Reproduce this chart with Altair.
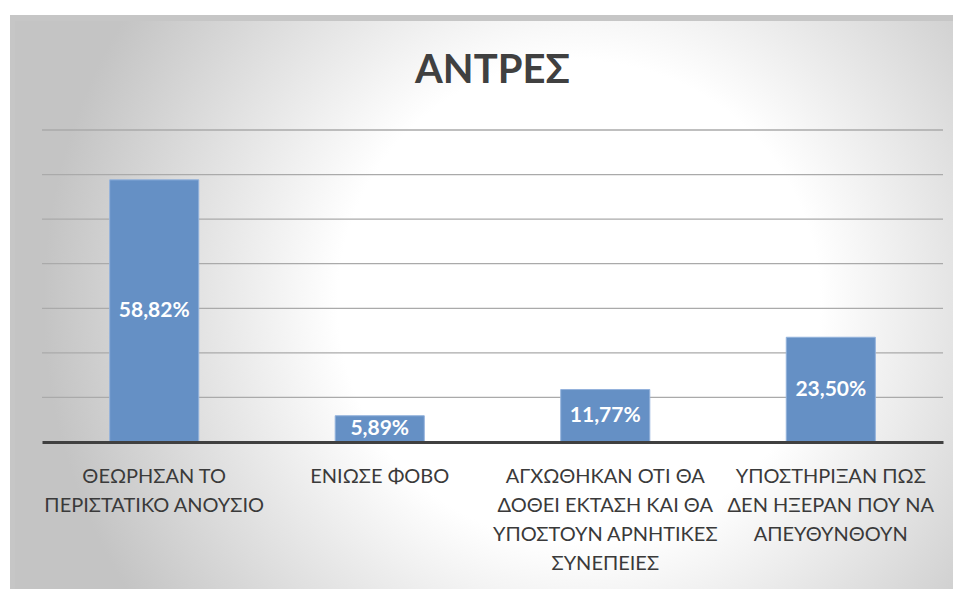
import altair as alt
import pandas as pd

# ---- data ----
categories = [
    "ΘΕΩΡΗΣΑΝ ΤΟ|ΠΕΡΙΣΤΑΤΙΚΟ ΑΝΟΥΣΙΟ",
    "ΕΝΙΩΣΕ ΦΟΒΟ",
    "ΑΓΧΩΘΗΚΑΝ ΟΤΙ ΘΑ|ΔΟΘΕΙ ΕΚΤΑΣΗ ΚΑΙ ΘΑ|ΥΠΟΣΤΟΥΝ ΑΡΝΗΤΙΚΕΣ|ΣΥΝΕΠΕΙΕΣ",
    "ΥΠΟΣΤΗΡΙΞΑΝ ΠΩΣ|ΔΕΝ ΗΞΕΡΑΝ ΠΟΥ ΝΑ|ΑΠΕΥΘΥΝΘΟΥΝ",
]
values = [58.82, 5.89, 11.77, 23.50]
grid_values = [10, 20, 30, 40, 50, 60, 70]
title_text = "ΑΝΤΡΕΣ"

df = pd.DataFrame({"cat": categories, "value": values})
grid_df = pd.DataFrame({"g": grid_values})

FONT = "Lato"
W, H = 901, 312

x_enc = alt.X(
    "cat:N",
    sort=categories,
    scale=alt.Scale(paddingInner=0.605, paddingOuter=0.3),
    axis=alt.Axis(
        title=None,
        labelAngle=0,
        labelExpr="split(datum.label, '|')",
        labelFont=FONT,
        labelFontSize=20,
        labelColor="#3a3a3a",
        labelLineHeight=29,
        labelPadding=24,
        labelLimit=300,
        ticks=False,
        domainColor="#404040",
        domainWidth=3,
        zindex=1,
    ),
)
y_scale = alt.Scale(domain=[0, 70], nice=False)

one = alt.Data(values=[{"k": 1}])

bg = alt.Chart(one).mark_rect(
    clip=False,
    fill=alt.Gradient(
        gradient="radial",
        x1=0.6, y1=0.5, r1=0,
        x2=0.6, y2=0.5, r2=0.55,
        stops=[
            alt.GradientStop(color="#ffffff", offset=0),
            alt.GradientStop(color="#ffffff", offset=0.45),
            alt.GradientStop(color="#c4c4c4", offset=1),
        ],
    ),
).encode(x=alt.value(-32), x2=alt.value(911), y=alt.value(-315), y2=alt.value(659))

cover = alt.Chart(one).mark_rect(clip=False, fill="#ffffff").encode(
    x=alt.value(-40), x2=alt.value(920), y=alt.value(-130), y2=alt.value(-115)
)
top_strip = alt.Chart(one).mark_rect(clip=False, fill="#c6c6c6").encode(
    x=alt.value(-32), x2=alt.value(911), y=alt.value(-115), y2=alt.value(-109)
)
left_strip = alt.Chart(one).mark_rect(clip=False, fill="#c6c6c6").encode(
    x=alt.value(-32), x2=alt.value(-27), y=alt.value(-115), y2=alt.value(470)
)

title = alt.Chart(alt.Data(values=[{"t": title_text}])).mark_text(
    font=FONT, fontSize=40, fontWeight="bold", color="#404040",
    baseline="alphabetic", align="center", clip=False,
).encode(x=alt.value(W / 2), y=alt.value(-47), text="t:N")

grid = alt.Chart(grid_df).mark_rule(color="#aaaaaa", strokeWidth=1.3).encode(
    y=alt.Y("g:Q", scale=y_scale, axis=None)
)

bars = alt.Chart(df).mark_bar(
    color="#6590c5", stroke="#93b2dc", strokeWidth=1
).encode(
    x=x_enc,
    y=alt.Y("value:Q", scale=y_scale, axis=None),
)

labels = alt.Chart(df).transform_calculate(
    half="datum.value / 2",
    txt="replace(format(datum.value, '.2f'), '.', ',') + '%'",
).mark_text(
    font=FONT, fontSize=21, fontWeight="bold", color="#ffffff", baseline="middle"
).encode(
    x=alt.X("cat:N", sort=categories),
    y=alt.Y("half:Q", scale=y_scale),
    text="txt:N",
)

chart = alt.layer(bg, cover, top_strip, left_strip, title, grid, bars, labels).properties(
    width=W,
    height=H,
    background="#ffffff",
    padding={"left": 34, "top": 122, "right": 10, "bottom": 147},
    autosize=alt.AutoSizeParams(type="none"),
).configure_view(stroke=None)

chart.save("out.html", embed_options={"renderer": "svg", "actions": False})
